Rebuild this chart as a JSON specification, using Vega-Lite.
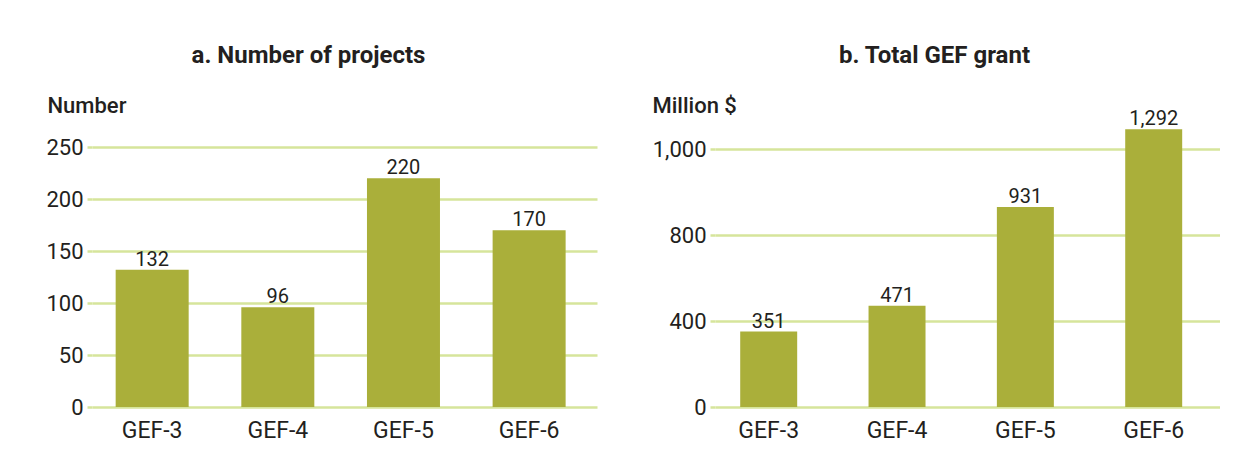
{
  "$schema": "https://vega.github.io/schema/vega-lite/v6.json",
  "padding": {"left": 45, "top": 44, "right": 0, "bottom": 0},
  "background": "white",
  "spacing": 118,
  "bounds": "flush",
  "config": {
    "font": "Roboto",
    "view": {"stroke": null},
    "title": {"font": "Roboto", "fontSize": 24, "fontWeight": "bold", "color": "#231f20", "frame": "group", "anchor": "middle", "offset": 26},
    "axis": {
      "labelFont": "Roboto", "labelFontSize": 22, "labelColor": "#231f20",
      "titleFont": "Roboto", "titleFontSize": 22, "titleFontWeight": 500, "titleColor": "#231f20",
      "gridColor": "#d6e59b", "gridWidth": 2.5, "domain": false,
      "tickColor": "#d6e59b", "tickWidth": 2.5, "tickSize": 5, "labelPadding": 4
    },
    "axisX": {"grid": false, "ticks": false, "labelPadding": 12, "labelAngle": 0, "labelFontSize": 23},
    "axisY": {"titleAngle": 0, "titleAlign": "left", "titleBaseline": "middle"}
  },
  "hconcat": [
    {
      "title": {"text": "a. Number of projects", "dx": -36},
      "width": 505,
      "height": 276,
      "data": {"values": [
        {"period": "GEF-3", "projects": 132},
        {"period": "GEF-4", "projects": 96},
        {"period": "GEF-5", "projects": 220},
        {"period": "GEF-6", "projects": 170}
      ]},
      "encoding": {
        "x": {"field": "period", "type": "nominal", "sort": null,
              "scale": {"paddingInner": 0.419, "paddingOuter": 0.219, "align": 0.43},
              "axis": {"title": null}},
        "y": {"field": "projects", "type": "quantitative",
              "scale": {"domain": [0, 265.4], "nice": false},
              "axis": {"values": [0, 50, 100, 150, 200, 250], "title": "Number", "titleX": -45, "titleY": -26}}
      },
      "layer": [
        {"mark": {"type": "bar", "color": "#aaaf3a"}},
        {"mark": {"type": "text", "baseline": "alphabetic", "dy": -4, "fontSize": 20, "color": "#231f20"},
         "encoding": {"text": {"field": "projects", "type": "quantitative", "format": ","}}}
      ]
    },
    {
      "title": {"text": "b. Total GEF grant", "dx": -33},
      "width": 505,
      "height": 276,
      "data": {"values": [
        {"period": "GEF-3", "grant": 351},
        {"period": "GEF-4", "grant": 471},
        {"period": "GEF-5", "grant": 931},
        {"period": "GEF-6", "grant": 1292}
      ]},
      "encoding": {
        "x": {"field": "period", "type": "nominal", "sort": null,
              "scale": {"paddingInner": 0.556, "paddingOuter": 0.2455, "align": 0.4},
              "axis": {"title": null}},
        "y": {"field": "grant", "type": "quantitative",
              "scale": {"domain": [0, 1284], "nice": false},
              "axis": {"values": [0, 400, 800, 1200], "labelExpr": "datum.value == 1200 ? '1,000' : format(datum.value, ',')", "title": "Million $", "titleX": -63, "titleY": -26}}
      },
      "layer": [
        {"mark": {"type": "bar", "color": "#aaaf3a"}},
        {"mark": {"type": "text", "baseline": "alphabetic", "dy": -4, "fontSize": 20, "color": "#231f20"},
         "encoding": {"text": {"field": "grant", "type": "quantitative", "format": ","}}}
      ]
    }
  ]
}
